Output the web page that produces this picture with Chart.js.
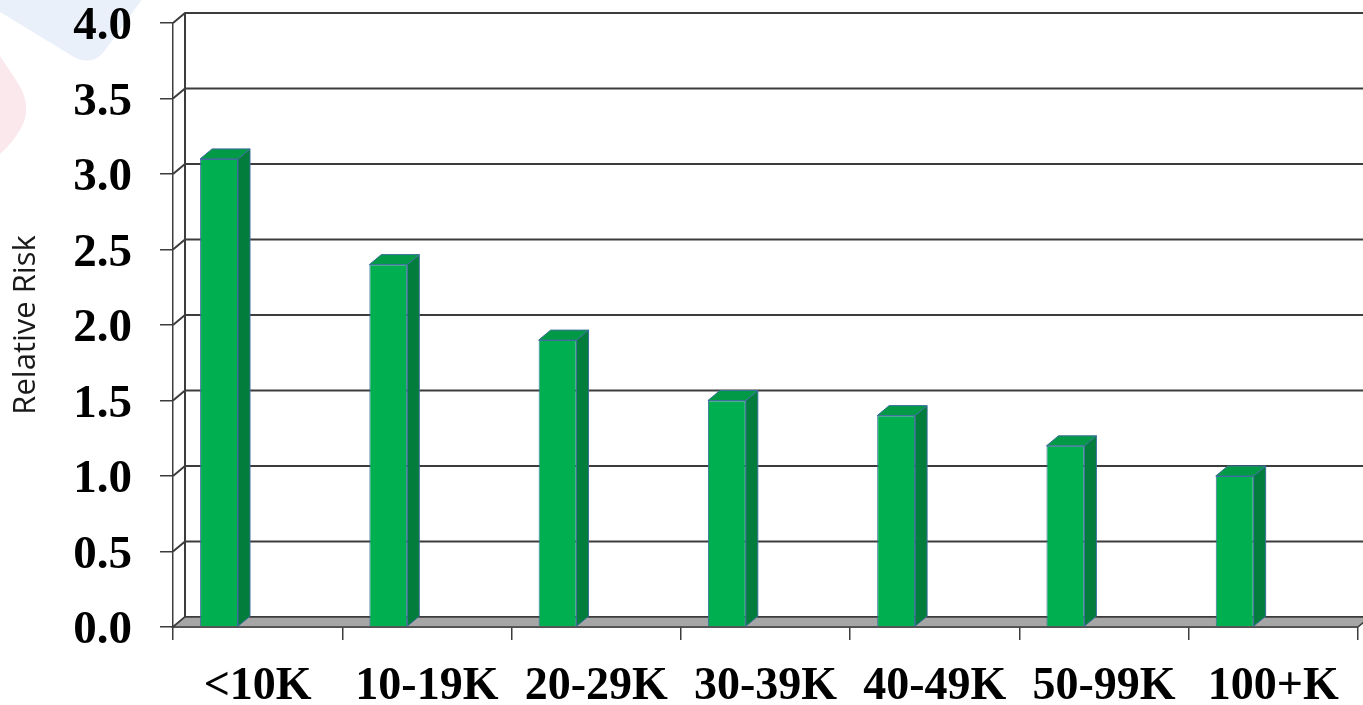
<!DOCTYPE html>
<html>
<head>
<meta charset="utf-8">
<title>Relative Risk by Income</title>
<script src="https://cdn.jsdelivr.net/npm/chart.js@4.4.1/dist/chart.umd.min.js"></script>
<style>
  html, body { margin: 0; padding: 0; background: #fff; }
  #wrap { width: 1363px; height: 705px; }
</style>
</head>
<body>
<div id="wrap"><canvas id="riskChart" width="1363" height="705"></canvas></div>
<script>
const incomeBands = ['<10K', '10-19K', '20-29K', '30-39K', '40-49K', '50-99K', '100+K'];
const relativeRisk = [3.1, 2.4, 1.9, 1.5, 1.4, 1.2, 1.0];
const riskTicks = [0, 0.5, 1, 1.5, 2, 2.5, 3, 3.5, 4];

// pseudo-3D depth of the plot box
const DX = 12;
const DY = -10;
const LINE = '#3c3c3c';
const BAR_FRONT = '#00b050';
const BAR_TOP = '#029a47';
const BAR_SIDE = '#037d3b';
const BAR_EDGE = '#3d6f9c';
// bars sit left of the category centre
const BAR_SHIFT = -0.228;

function barShift(chart) {
  const a = chart.chartArea;
  return BAR_SHIFT * (a.right - a.left) / incomeBands.length;
}

const depthPlugin = {
  id: 'depth',
  beforeDraw(chart) {
    // faint logo in the corner
    const ctx = chart.ctx;
    ctx.save();
    ctx.fillStyle = '#eaf0f9';
    ctx.beginPath();
    ctx.moveTo(0, -60);
    ctx.lineTo(0, 12);
    ctx.arcTo(92, 68, 146, -6, 22);
    ctx.lineTo(146, -6);
    ctx.lineTo(146, -60);
    ctx.closePath();
    ctx.fill();
    ctx.fillStyle = '#fbe8ec';
    ctx.beginPath();
    ctx.moveTo(0, 56);
    ctx.lineTo(16, 80);
    ctx.quadraticCurveTo(31, 102, 24, 122);
    ctx.quadraticCurveTo(16, 140, 0, 154);
    ctx.closePath();
    ctx.fill();
    ctx.restore();
  },
  beforeDatasetsDraw(chart) {
    const { ctx, chartArea: a, scales: { y } } = chart;
    ctx.save();
    ctx.strokeStyle = LINE;
    ctx.lineWidth = 2;
    // back wall grid and left wall connectors
    y.ticks.forEach(t => {
      const py = y.getPixelForValue(t.value);
      ctx.beginPath();
      ctx.moveTo(a.left, py);
      ctx.lineTo(a.left + DX, py + DY);
      ctx.lineTo(a.right + DX, py + DY);
      ctx.stroke();
    });
    ctx.beginPath();
    ctx.moveTo(a.left + DX, a.top + DY);
    ctx.lineTo(a.left + DX, a.bottom + DY);
    ctx.stroke();
    // floor
    ctx.fillStyle = '#a6a6a6';
    ctx.lineWidth = 1.5;
    ctx.beginPath();
    ctx.moveTo(a.left, a.bottom);
    ctx.lineTo(a.right, a.bottom);
    ctx.lineTo(a.right + DX, a.bottom + DY);
    ctx.lineTo(a.left + DX, a.bottom + DY);
    ctx.closePath();
    ctx.fill();
    ctx.stroke();
    ctx.restore();

    ctx.save();
    ctx.translate(barShift(chart), 0);
  },
  afterDatasetsDraw(chart) {
    const ctx = chart.ctx;
    ctx.lineWidth = 1;
    ctx.strokeStyle = BAR_EDGE;
    chart.getDatasetMeta(0).data.forEach(bar => {
      const { x, y, base, width } = bar.getProps(['x', 'y', 'base', 'width'], true);
      const l = x - width / 2;
      const r = x + width / 2;
      ctx.fillStyle = BAR_SIDE;
      ctx.beginPath();
      ctx.moveTo(r, y);
      ctx.lineTo(r + DX, y + DY);
      ctx.lineTo(r + DX, base + DY);
      ctx.lineTo(r, base);
      ctx.closePath();
      ctx.fill();
      ctx.stroke();
      ctx.fillStyle = BAR_TOP;
      ctx.beginPath();
      ctx.moveTo(l, y);
      ctx.lineTo(l + DX, y + DY);
      ctx.lineTo(r + DX, y + DY);
      ctx.lineTo(r, y);
      ctx.closePath();
      ctx.fill();
      ctx.stroke();
    });
    ctx.restore();
  }
};

const ctx = document.getElementById('riskChart').getContext('2d');
const riskChart = new Chart(ctx, {
  type: 'bar',
  data: {
    labels: incomeBands,
    datasets: [
      {
        label: 'Relative Risk',
        data: relativeRisk,
        backgroundColor: BAR_FRONT,
        borderColor: BAR_EDGE,
        borderWidth: 1,
        categoryPercentage: 1,
        barPercentage: 0.224,
      },
    ],
  },
  options: {
    responsive: false,
    animation: false,
    layout: {
      padding: { top: 23, right: 3, bottom: 0, left: 0 },
    },
    plugins: {
      legend: { display: false },
      tooltip: { enabled: false },
    },
    scales: {
      x: {
        offset: true,
        afterFit: scale => { scale.height = 78; },
        grid: {
          offset: true,
          drawOnChartArea: false,
          tickLength: 13,
          color: LINE,
          lineWidth: 1.5,
        },
        border: { color: LINE, width: 1.5 },
        ticks: {
          color: '#000',
          padding: 24,
          maxRotation: 0,
          font: {
            family: 'Liberation Serif',
            weight: 'bold',
            size: 46,
            lineHeight: 1,
          },
        },
      },
      y: {
        min: 0,
        max: 4,
        afterFit: scale => {
          scale.width = 173;
          scale.paddingTop = 0;
          scale.paddingBottom = 0;
        },
        afterBuildTicks: scale => {
          scale.ticks = riskTicks.map(v => ({ value: v }));
        },
        grid: {
          drawOnChartArea: false,
          tickLength: 13,
          color: LINE,
          lineWidth: 1.5,
        },
        border: { color: LINE, width: 1.5 },
        ticks: {
          color: '#000',
          padding: 28,
          labelOffset: 4,
          callback: value => value.toFixed(1),
          font: {
            family: 'Liberation Serif',
            weight: 'bold',
            size: 47,
            lineHeight: 1,
          },
        },
        title: {
          display: true,
          text: 'Relative Risk',
          color: '#1a1a1a',
          padding: { top: 8, bottom: 0 },
          font: {
            family: 'Open Sans',
            size: 31,
          },
        },
      },
    },
  },
  plugins: [depthPlugin],
});
</script>
</body>
</html>
